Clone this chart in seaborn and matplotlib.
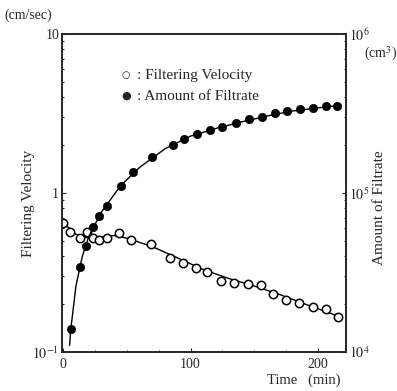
import matplotlib
matplotlib.use("Agg")
import matplotlib.pyplot as plt
import matplotlib.ticker as mticker
import seaborn as sns
import pandas as pd
import numpy as np

# Filtering velocity (open circles), cm/sec
vel_t = [0, 5, 13, 19, 23, 28, 34, 44, 53, 69, 84, 94, 104, 113, 124, 134, 145, 155,
         165, 175, 185, 196, 206, 216]
vel_v = [0.65, 0.57, 0.52, 0.57, 0.52, 0.51, 0.52, 0.56, 0.51, 0.48, 0.39, 0.365, 0.34,
         0.32, 0.28, 0.27, 0.267, 0.263, 0.233, 0.213, 0.204, 0.191, 0.186, 0.167]
# smooth curve drawn through the velocity points
vel_curve_t = [0, 10, 20, 30, 40, 50, 70, 90, 110, 130, 150, 170, 190, 216]
vel_curve_v = [0.65, 0.55, 0.52, 0.53, 0.54, 0.52, 0.46, 0.39, 0.33, 0.29, 0.26, 0.23, 0.20, 0.168]

# Amount of filtrate (filled circles), cm3
amt_t = [6, 13, 18, 23, 28, 34, 45, 55, 70, 86, 95, 105, 115, 125, 136, 146, 156, 166,
         176, 186, 196, 206, 215]
amt_v = [1.40e4, 3.44e4, 4.64e4, 6.08e4, 7.17e4, 8.28e4, 1.11e5, 1.35e5, 1.69e5, 1.99e5,
         2.19e5, 2.35e5, 2.49e5, 2.61e5, 2.74e5, 2.91e5, 3.02e5, 3.17e5, 3.28e5, 3.36e5,
         3.41e5, 3.53e5, 3.53e5]
amt_curve_t = [5, 6, 10, 15, 20, 30, 45, 60, 80, 100, 120, 140, 160, 180, 200, 216]
amt_curve_v = [1.1e4, 1.4e4, 2.6e4, 4.0e4, 5.3e4, 7.6e4, 1.11e5, 1.45e5, 1.9e5, 2.28e5,
               2.55e5, 2.8e5, 3.05e5, 3.28e5, 3.43e5, 3.55e5]

sns.set_style("ticks")
plt.rcParams['font.family'] = ['Liberation Serif', 'DejaVu Serif']
plt.rcParams['mathtext.fontset'] = 'stix'

fig = plt.figure(figsize=(3.97, 3.91), dpi=100)
ax = fig.add_axes([0.156, 0.0997, 0.7155, 0.8133])
ax2 = ax.twinx()

# velocity curve + points on left axis
sns.lineplot(x=vel_curve_t, y=vel_curve_v, ax=ax, color="black", lw=1.0)
sns.scatterplot(x=vel_t, y=vel_v, ax=ax, s=36, facecolor="white", edgecolor="black",
                linewidth=1.1, zorder=3)

# filtrate curve + points on right axis
sns.lineplot(x=amt_curve_t, y=amt_curve_v, ax=ax2, color="black", lw=1.0)
sns.scatterplot(x=amt_t, y=amt_v, ax=ax2, s=36, color="black", edgecolor="black", zorder=3)

ax.set_yscale("log")
ax2.set_yscale("log")
ax.set_ylim(0.1, 10)
ax2.set_ylim(1e4, 1e6)
ax.set_xlim(-1, 222)

ax.set_xticks([0, 100, 200])
ax.xaxis.set_minor_locator(mticker.MultipleLocator(25))
ax.set_yticks([0.1, 1, 10])
ax.set_yticklabels([r"$10^{-1}$", "1", "10"])
ax2.set_yticks([1e4, 1e5, 1e6])
ax2.set_yticklabels([r"$10^4$", r"$10^5$", r"$10^6$"])

for a in (ax, ax2):
    a.tick_params(which="both", direction="in", labelsize=10, length=3, width=0.8)
    a.tick_params(which="minor", length=1.5)
    for sp in a.spines.values():
        sp.set_linewidth(1.2)
ax.tick_params(axis="y", which="minor", left=True, length=1.5)
ax2.tick_params(axis="y", which="minor", right=True, length=1.5)
ax.tick_params(axis="y", pad=2)
ax2.tick_params(axis="y", pad=2)
ax.tick_params(axis="x", pad=4)

ax.set_xlabel("")
ax.set_ylabel("")
ax2.set_ylabel("")

fig.text(0.012, 0.962, "(cm/sec)", fontsize=10, ha="left", va="center")
fig.text(0.918, 0.862, "(cm$^3$)", fontsize=10, ha="left", va="center")
fig.text(0.072, 0.48, "Filtering Velocity", fontsize=11, rotation=90, ha="center", va="center")
fig.text(0.957, 0.47, "Amount of Filtrate", fontsize=11, rotation=90, ha="center", va="center")
fig.text(0.765, 0.028, "Time   (min)", fontsize=10.5, ha="center", va="center")

ax.text(0.225, 0.87, "○", transform=ax.transAxes, fontsize=7, ha="center", va="center",
        family="DejaVu Sans")
ax.text(0.265, 0.87, ": Filtering Velocity", transform=ax.transAxes, fontsize=11,
        ha="left", va="center")
ax.text(0.225, 0.805, "●", transform=ax.transAxes, fontsize=8, ha="center", va="center",
        family="DejaVu Sans")
ax.text(0.265, 0.805, ": Amount of Filtrate", transform=ax.transAxes, fontsize=11,
        ha="left", va="center")

fig.savefig("out.png", dpi=100)
